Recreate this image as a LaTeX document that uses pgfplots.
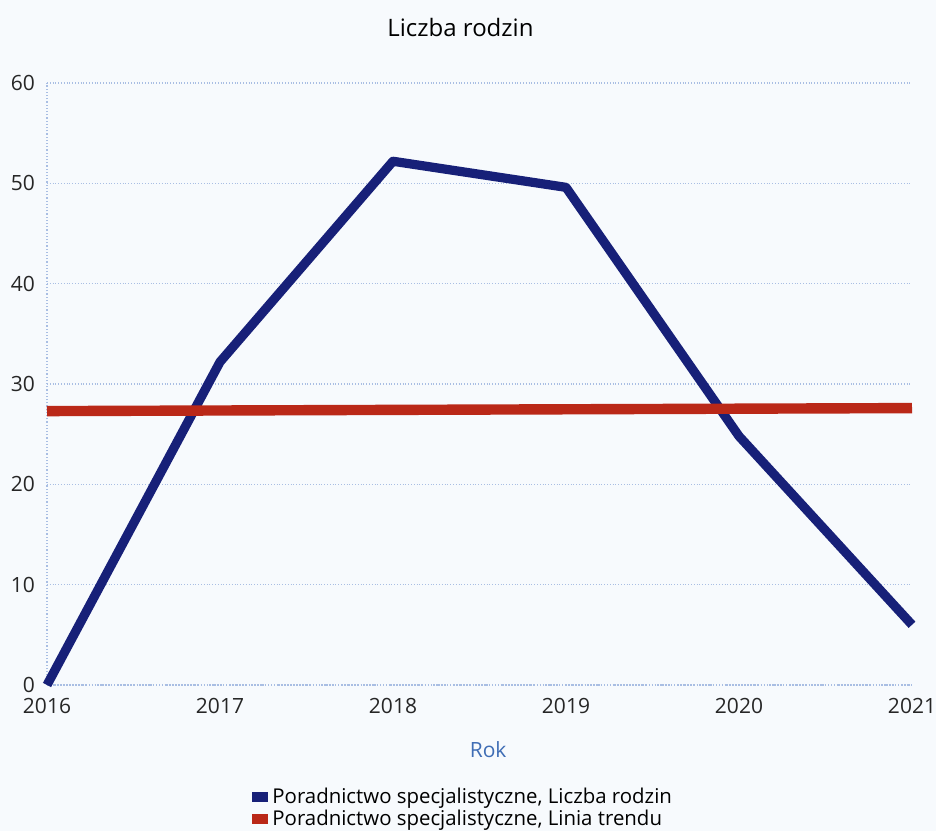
\documentclass[border=0pt]{standalone}
\usepackage{fontspec}
\setmainfont{Open Sans}
\usepackage{pgfplots}
\pgfplotsset{compat=1.18}
\definecolor{navyline}{HTML}{172078}
\definecolor{redline}{HTML}{BA2818}
\definecolor{gridblue}{HTML}{A9BEE3}
\definecolor{rokblue}{HTML}{3F6DB5}
\definecolor{paper}{HTML}{F7FAFD}
\begin{document}
\begin{tikzpicture}
\fill[paper] (0pt,0pt) rectangle (468pt,415.5pt);
\useasboundingbox (0pt,0pt) rectangle (468pt,415.5pt);
\begin{axis}[
  at={(23.5pt,73pt)}, anchor=south west,
  scale only axis,
  width=432.5pt, height=301pt,
  xmin=2016, xmax=2021, ymin=0, ymax=60,
  xtick={2016,2017,2018,2019,2020,2021},
  ytick={0,10,20,30,40,50,60},
  xticklabel style={/pgf/number format/1000 sep={}, yshift=-3pt},
  yticklabel style={xshift=-2.5pt},
  /pgf/number format/assume math mode=true,
  tick label style={font=\fontsize{10.5}{12}\selectfont, text=black!85},
  major tick length=0pt,
  axis lines*=left,
  axis line style={draw=gridblue, densely dotted, line width=0.6pt},
  ymajorgrids,
  grid style={draw=gridblue, densely dotted, line width=0.6pt},
  title={Liczba rodzin},
  title style={at={(0.478,1)}, anchor=south, yshift=13.5pt, font=\fontsize{12}{14}\selectfont},
  xlabel={Rok},
  xlabel style={at={(0.51,0)}, anchor=center, yshift=-32.5pt, font=\fontsize{10.5}{12}\selectfont, text=rokblue},
  legend style={at={(0.237,-0.163)}, anchor=north west, draw=none, fill=none,
    font=\fontsize{10.2}{11}\selectfont, row sep=-2pt, inner sep=0pt},
  legend cell align=left,
  legend image code/.code={\fill[draw=none] (0pt,-2.5pt) rectangle (8pt,2.5pt);},
  clip=false,
]
\addplot[navyline, line width=4.6pt, line join=round] coordinates {
  (2016,0) (2017,32.2) (2018,52.2) (2019,49.6) (2020,24.8) (2021,6.0)
};
\addlegendentry{Poradnictwo specjalistyczne, Liczba rodzin}
\addplot[redline, line width=5.2pt] coordinates {
  (2016,27.3) (2021,27.6)
};
\addlegendentry{Poradnictwo specjalistyczne, Linia trendu}
\end{axis}
\end{tikzpicture}
\end{document}
